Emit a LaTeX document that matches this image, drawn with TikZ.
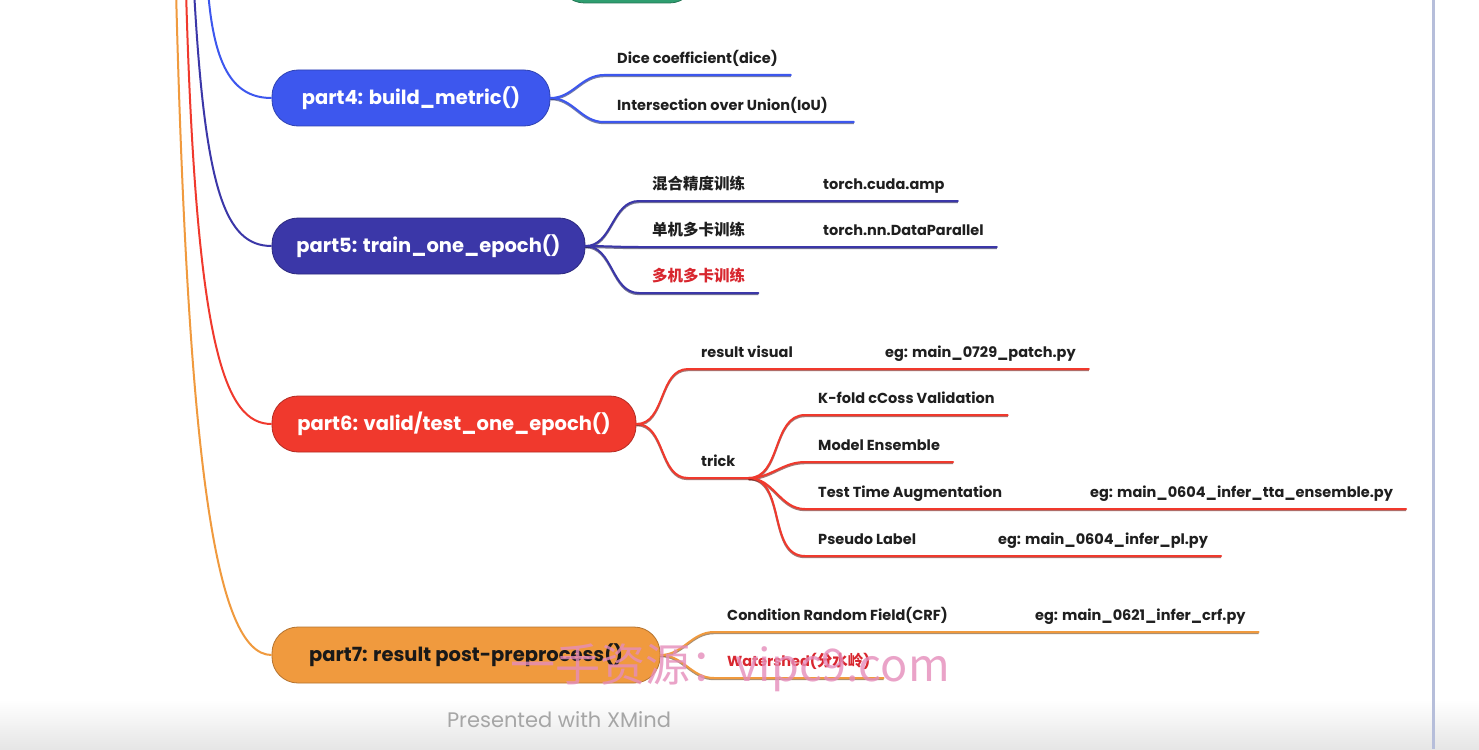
\documentclass[tikz,border=0pt]{standalone}
\usepackage{fontspec}
\setmainfont{Poppins}
\newfontfamily\cjk{Noto Sans CJK SC}
\usetikzlibrary{positioning}
\definecolor{topicblue}{HTML}{3D57EE}
\definecolor{topicindigo}{HTML}{3B37A8}
\definecolor{topicred}{HTML}{F0392D}
\definecolor{topicorange}{HTML}{F09A3E}
\definecolor{topicgreen}{HTML}{2F9E70}
\definecolor{alertred}{HTML}{D8262E}
\definecolor{wmpink}{HTML}{E58DBB}
\definecolor{framebar}{HTML}{B6BEDA}
\newcommand{\zh}[1]{{\cjk\fontsize{15.5}{17}\selectfont #1}}

\begin{document}
\begin{tikzpicture}[
  x=1pt, y=-1pt,
  topic/.style={rectangle, rounded corners=26pt, minimum height=56pt, draw=#1!75!black, fill=#1,
    line width=0.8pt, text=white, font=\fontsize{19.5}{22}\selectfont\bfseries},
  leaf/.style={anchor=south west, inner xsep=13pt, inner ysep=8pt, text depth=3pt,
    font=\fontsize{14.5}{17}\selectfont\bfseries, text=black!88},
  rootline/.style={line width=2pt, draw=#1},
  subline/.style={line width=2pt, draw=#1, line cap=round,
    preaction={draw=#1!45!black, opacity=0.6, line width=2pt, transform canvas={yshift=-1.2pt}}}
]
  % 背景と枠
  \fill[white] (0,0) rectangle (1479,749);
  \shade[top color=white, bottom color=black!10] (0,700) rectangle (1479,749);
  \useasboundingbox (0,0) rectangle (1479,749);
  \draw[framebar, line width=3pt] (1433,0) -- (1433,749);

  % 主題ノード
  \node[topic=topicgreen, minimum width=137pt] (p3) at (627,-25) {};
  \node[topic=topicblue, minimum width=278pt] (p4) at (411,98) {part4: build\_metric()};
  \node[topic=topicindigo, minimum width=313pt] (p5) at (428.5,246) {part5: train\_one\_epoch()};
  \node[topic=topicred, minimum width=364pt] (p6) at (454,424) {part6: valid/test\_one\_epoch()};
  \node[topic=topicorange, minimum width=388pt, text=black!90] (p7) at (466,655) {part7: result post-preprocess()};

  % 根からの線
  \coordinate (r4) at (208,-10);
  \coordinate (r5) at (194,-10);
  \coordinate (r6) at (186,-10);
  \coordinate (r7) at (176,-10);
  \draw[rootline=topicblue] (r4) .. controls (214,70) and (235,98) .. (p4.west);
  \draw[rootline=topicindigo] (r5) .. controls (205,190) and (225,246) .. (p5.west);
  \draw[rootline=topicred] (r6) .. controls (196,350) and (225,424) .. (p6.west);
  \draw[rootline=topicorange] (r7) .. controls (188,460) and (215,655) .. (p7.west);

  % part4
  \node[leaf] (dice) at (604,75) {Dice coefficient(dice)};
  \node[leaf] (iou) at (604,122) {Intersection over Union(IoU)};
  \draw[subline=topicblue] (p4.east) to[out=0,in=180] (dice.south west) -- (dice.south east);
  \draw[subline=topicblue] (p4.east) to[out=0,in=180] (iou.south west) -- ([xshift=13pt]iou.south east);

  % part5
  \node[leaf] (amp) at (639,201) {\zh{混合精度训练}};
  \node[leaf] (cuda) at (810,201) {torch.cuda.amp};
  \node[leaf] (single) at (639,247) {\zh{单机多卡训练}};
  \node[leaf] (dp) at (810,247) {torch.nn.DataParallel};
  \node[leaf, text=alertred] (multi) at (639,293) {\zh{多机多卡训练}};
  \draw[subline=topicindigo] (p5.east) to[out=0,in=180] (amp.south west) -- (cuda.south east);
  \draw[subline=topicindigo] (p5.east) to[out=0,in=180] (single.south west) -- (dp.south east);
  \draw[subline=topicindigo] (p5.east) to[out=0,in=180] (multi.south west) -- (multi.south east);

  % part6
  \node[leaf] (visual) at (688,369) {result visual};
  \node[leaf] (patch) at (872,369) {eg: main\_0729\_patch.py};
  \node[leaf] (trick) at (688,478) {trick};
  \node[leaf] (kfold) at (805,415) {K-fold cCoss Validation};
  \node[leaf] (ens) at (805,462) {Model Ensemble};
  \node[leaf] (tta) at (805,509) {Test Time Augmentation};
  \node[leaf] (ttapy) at (1077,509) {eg: main\_0604\_infer\_tta\_ensemble.py};
  \node[leaf] (pseudo) at (805,556) {Pseudo Label};
  \node[leaf] (plpy) at (985,556) {eg: main\_0604\_infer\_pl.py};
  \draw[subline=topicred] (p6.east) to[out=0,in=180] (visual.south west) -- (patch.south east);
  \draw[subline=topicred] (p6.east) to[out=0,in=180] (trick.south west) -- (trick.south east);
  \draw[subline=topicred] (trick.south east) to[out=0,in=180] (kfold.south west) -- (kfold.south east);
  \draw[subline=topicred] (trick.south east) to[out=0,in=180] (ens.south west) -- (ens.south east);
  \draw[subline=topicred] (trick.south east) to[out=0,in=180] (tta.south west) -- (ttapy.south east);
  \draw[subline=topicred] (trick.south east) to[out=0,in=180] (pseudo.south west) -- (plpy.south east);

  % part7
  \node[leaf] (crf) at (714,632) {Condition Random Field(CRF)};
  \node[leaf] (crfpy) at (1022,632) {eg: main\_0621\_infer\_crf.py};
  \node[leaf, text=alertred] (shed) at (714,678) {Watershed(\zh{分水岭})};
  \draw[subline=topicorange] (p7.east) to[out=0,in=180] (crf.south west) -- (crfpy.south east);
  \draw[subline=topicorange] (p7.east) to[out=0,in=180] (shed.south west) -- (shed.south east);

  % 透かしと署名
  \node[text=wmpink, opacity=0.8, font=\cjk\fontsize{45}{50}\selectfont] (mark) at (730,668) {一手资源：vipc9.com};
  \node[text=black!35, font=\fontsize{21}{24}\selectfont] (xmind) at (559,720) {Presented with XMind};
\end{tikzpicture}
\end{document}
